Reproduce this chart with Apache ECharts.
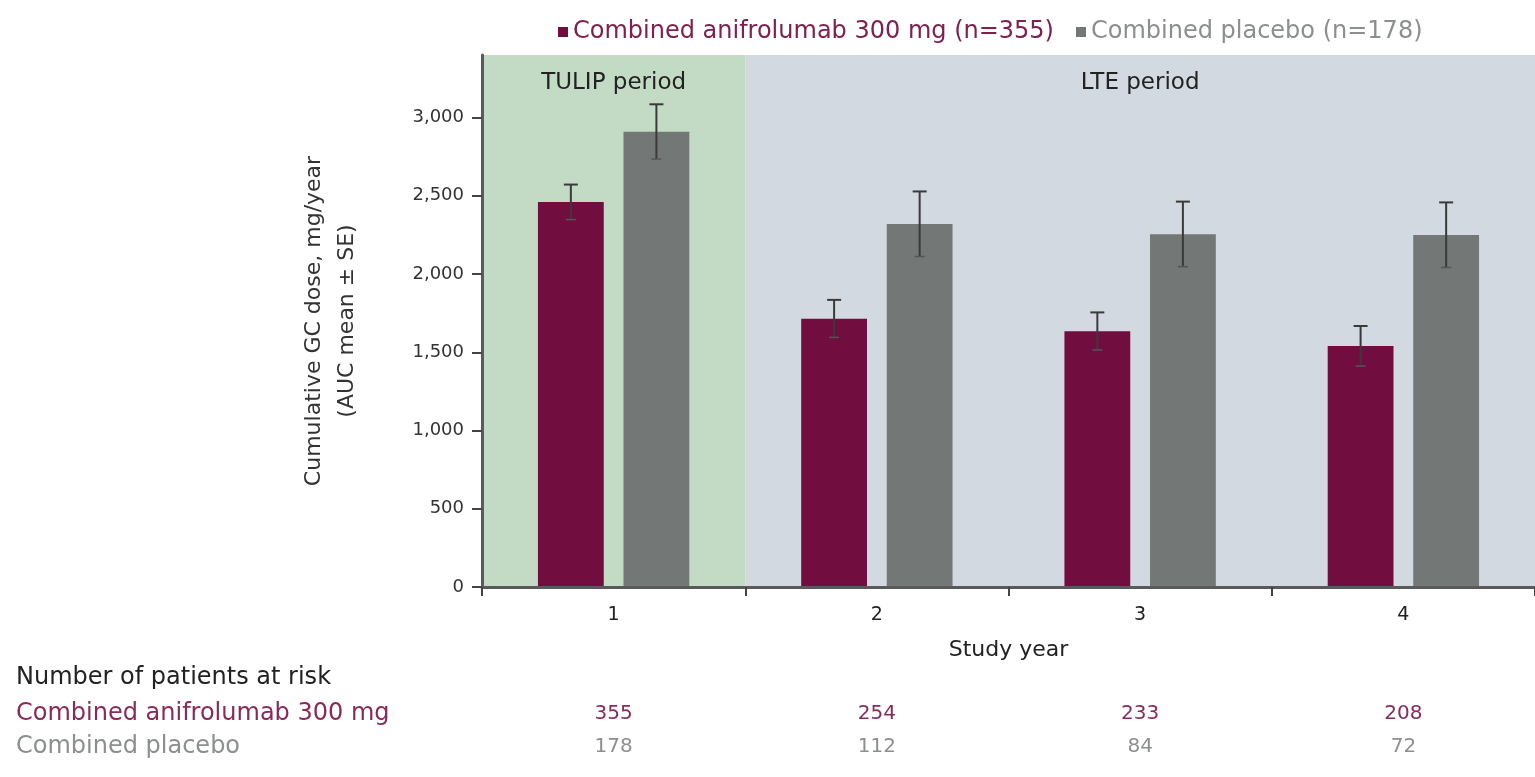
<!DOCTYPE html>
<html>
<head>
<meta charset="utf-8">
<script src="https://cdn.jsdelivr.net/npm/echarts@6/dist/echarts.min.js"></script>
<style>
html, body { margin: 0; padding: 0; background: #fff; }
#chart { width: 1535px; height: 777px; }
</style>
</head>
<body>
<div id="chart"></div>
<script>
var years = ['1', '2', '3', '4'];
var anifrolumab = [2460, 1715, 1635, 1540];
var anifrolumabSE = [112, 120, 120, 128];
var placebo = [2910, 2320, 2255, 2250];
var placeboSE = [175, 208, 208, 208];
var yTicks = [0, 500, 1000, 1500, 2000, 2500, 3000];
var periodNames = ['TULIP period', 'LTE period'];
var periodStart = [0, 1];
var periodEnd = [1, 4];
var atRiskAni = [355, 254, 233, 208];
var atRiskPla = [178, 112, 84, 72];

var maroon = '#720d3f';
var grey = '#737775';
var font = 'DejaVu Sans';

// barWidth / barGap used both for bars and for placing the error bars
var BAR_W = 0.25, BAR_GAP = 0.3;

function errorRender(sign) {
    return function (params, api) {
        var idx = api.value(0), mean = api.value(1), se = api.value(2);
        var band = api.size([1, 0])[0];
        var w = band * BAR_W;
        var dx = sign * (w + w * BAR_GAP) / 2;
        var hi = api.coord([idx, mean + se]);
        var lo = api.coord([idx, mean - se]);
        var x = hi[0] + dx;
        var st = {stroke: '#3a3a3a', lineWidth: 2};
        return {
            type: 'group',
            children: [
                {type: 'line', shape: {x1: x, y1: hi[1], x2: x, y2: lo[1]}, style: st},
                {type: 'line', shape: {x1: x - 7, y1: hi[1], x2: x + 7, y2: hi[1]}, style: st},
                {type: 'line', shape: {x1: x - 5, y1: lo[1], x2: x + 5, y2: lo[1]}, style: {stroke: '#555', lineWidth: 1.5}}
            ]
        };
    };
}

var myChart = echarts.init(document.getElementById('chart'));
myChart.setOption({
    animation: false,
    textStyle: {fontFamily: font},
    grid: {left: 482, right: 0, top: 55, bottom: 190},
    legend: {
        left: 553,
        top: 15,
        itemWidth: 10,
        itemHeight: 10,
        itemGap: 22,
        icon: 'rect',
        data: [
            {name: 'Combined anifrolumab 300 mg (n=355)', textStyle: {color: '#80204f'}},
            {name: 'Combined placebo (n=178)', textStyle: {color: '#8c8f8f'}}
        ],
        textStyle: {fontSize: 24, fontFamily: font}
    },
    xAxis: [
        {
            type: 'category',
            data: years,
            z: 10,
            name: 'Study year',
            nameLocation: 'middle',
            nameGap: 52,
            nameTextStyle: {fontSize: 22, color: '#222'},
            axisLine: {lineStyle: {color: '#5a5a5a', width: 3}},
            axisTick: {show: true, length: 9, lineStyle: {color: '#444', width: 2}},
            axisLabel: {fontSize: 19, color: '#222', margin: 19}
        },
        {
            type: 'value',
            min: 0,
            max: 4,
            show: false
        },
        {
            type: 'category',
            data: years,
            position: 'bottom',
            offset: 102,
            axisLine: {show: false},
            axisTick: {show: false},
            axisLabel: {
                margin: 8,
                formatter: function (v, i) {
                    return '{a|' + atRiskAni[i] + '}\n{b|' + atRiskPla[i] + '}';
                },
                rich: {
                    a: {color: '#8a2a5a', fontSize: 20, lineHeight: 33, fontFamily: font},
                    b: {color: '#8c8f8f', fontSize: 20, lineHeight: 33, fontFamily: font}
                }
            }
        }
    ],
    yAxis: {
        type: 'value',
        min: 0,
        max: 3400,
        z: 10,
        name: 'Cumulative GC dose, mg/year\n(AUC mean ± SE)',
        nameLocation: 'middle',
        nameGap: 118,
        nameTextStyle: {fontSize: 22, color: '#333', lineHeight: 33},
        splitLine: {show: false},
        axisLine: {show: true, lineStyle: {color: '#5a5a5a', width: 3}},
        axisTick: {show: true, length: 10, customValues: yTicks, lineStyle: {color: '#444', width: 2}},
        axisLabel: {
            customValues: yTicks,
            fontSize: 18,
            color: '#333',
            margin: 18,
            formatter: function (v) { return v.toLocaleString('en-US'); }
        }
    },
    graphic: [
        {type: 'text', left: 16, top: 666, style: {text: 'Number of patients at risk', fill: '#222', fontSize: 24, fontFamily: font}},
        {type: 'text', left: 16, top: 702, style: {text: 'Combined anifrolumab 300 mg', fill: '#8a2a5a', fontSize: 24, fontFamily: font}},
        {type: 'text', left: 16, top: 735, style: {text: 'Combined placebo', fill: '#8c8f8f', fontSize: 24, fontFamily: font}}
    ],
    series: [
        {
            type: 'custom',
            xAxisIndex: 1,
            z: 0,
            silent: true,
            data: periodStart.map(function (s, i) { return [s, periodEnd[i]]; }),
            encode: {x: [0, 1]},
            renderItem: function (params, api) {
                var cs = params.coordSys;
                var x0 = api.coord([api.value(0), 0])[0];
                var x1 = api.coord([api.value(1), 0])[0];
                var color = params.dataIndex === 0 ? '#c3dbc4' : '#d3d9e1';
                return {
                    type: 'group',
                    children: [
                        {type: 'rect', shape: {x: x0, y: cs.y, width: x1 - x0, height: cs.height}, style: {fill: color}},
                        {type: 'text', style: {
                            x: (x0 + x1) / 2, y: cs.y + 28, text: periodNames[params.dataIndex],
                            align: 'center', verticalAlign: 'middle',
                            fill: '#222', fontSize: 23, fontFamily: font
                        }}
                    ]
                };
            }
        },
        {
            name: 'Combined anifrolumab 300 mg (n=355)',
            type: 'bar',
            data: anifrolumab,
            barWidth: '25%',
            barGap: '30%',
            itemStyle: {color: maroon}
        },
        {
            name: 'Combined placebo (n=178)',
            type: 'bar',
            data: placebo,
            barWidth: '25%',
            barGap: '30%',
            itemStyle: {color: grey}
        },
        {
            type: 'custom',
            z: 5,
            silent: true,
            data: anifrolumab.map(function (v, i) { return [i, v, anifrolumabSE[i]]; }),
            encode: {x: 0, y: 1},
            renderItem: errorRender(-1)
        },
        {
            type: 'custom',
            z: 5,
            silent: true,
            data: placebo.map(function (v, i) { return [i, v, placeboSE[i]]; }),
            encode: {x: 0, y: 1},
            renderItem: errorRender(1)
        }
    ]
});
</script>
</body>
</html>
